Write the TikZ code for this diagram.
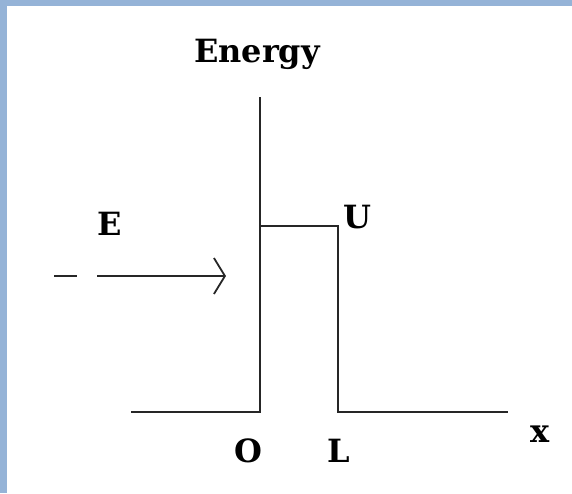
\documentclass[tikz,border=0pt]{standalone}
\usepackage{fontspec}
\setmainfont{DejaVu Serif}
\usepackage{xcolor}
\usetikzlibrary{arrows.meta}
\definecolor{framebl}{RGB}{149,179,215}

\begin{document}
\begin{tikzpicture}[
    x=1pt, y=-1pt,
    wall/.style={line width=2.4pt, draw=black!85, line join=miter},
    lbl/.style={font=\fontsize{32}{38}\selectfont\bfseries, anchor=base, inner sep=0pt},
    arrow/.style={-{Straight Barb[length=11pt, width=36pt, line width=1.8pt]}, line width=2.4pt, draw=black!85}
]
    % Frame
    \useasboundingbox (0,0) rectangle (572,493);
    \fill[framebl] (0,0) rectangle (572,6);
    \fill[framebl] (0,0) rectangle (7,493);

    % Barrier corners
    \coordinate (left) at (131,412);
    \coordinate (o) at (260,412);
    \coordinate (top) at (260,97);
    \coordinate (ul) at (260,226);
    \coordinate (ur) at (338,226);
    \coordinate (l) at (338,412);
    \coordinate (right) at (508,412);

    % Incoming wave
    \coordinate (d1) at (54,276);
    \coordinate (d2) at (77,276);
    \coordinate (a1) at (97,276);
    \coordinate (a2) at (226,276);

    % Potential
    \draw[wall] (left) -- (o) -- (top);
    \draw[wall] (ul) -- (ur) -- (l) -- (right);
    \draw[wall] (d1) -- (d2);
    \draw[arrow] (a1) -- (a2);

    % Labels
    \node[lbl] (energy) at (257,62) {Energy};
    \node[lbl] (elab) at (110,235) {E};
    \node[lbl] (ulab) at (357,228) {U};
    \node[lbl] (olab) at (248,462) {O};
    \node[lbl] (llab) at (339,462) {L};
    \node[lbl] (xlab) at (540,442) {x};

\end{tikzpicture}
\end{document}
